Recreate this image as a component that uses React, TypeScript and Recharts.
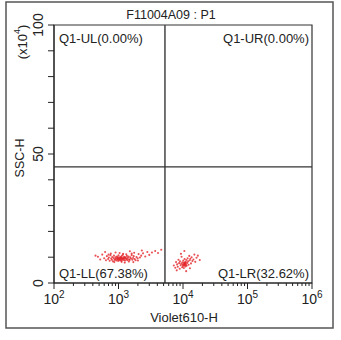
import { ScatterChart, Scatter, XAxis, YAxis, ReferenceLine, ReferenceArea } from "recharts"

const title = "F11004A09 : P1"
const xTitle = "Violet610-H"
const yTitle = "SSC-H"

const decades = [100, 1000, 10000, 100000, 1000000]
const minorSteps = [2, 3, 4, 5, 6, 7, 8, 9]
const xTicks = [
  ...decades,
  ...decades.slice(0, 4).flatMap((d) => minorSteps.map((m) => d * m)),
].sort((a, b) => a - b)
const yTicks = [0, 10, 20, 30, 40, 50, 60, 70, 80, 90, 100]
const yLabelTicks = [0, 50, 100]

// quadrant gate
const gateX = 5250
const gateY = 45

const quadLabels = {
  ul: "Q1-UL(0.00%)",
  ur: "Q1-UR(0.00%)",
  ll: "Q1-LL(67.38%)",
  lr: "Q1-LR(32.62%)",
}

// Violet610-H, SSC-H (x10^4)
const llEvents = [
  [440, 10.6], [480, 10.2], [520, 9.1], [560, 11.0], [600, 9.6], [640, 8.8], [660, 10.4], [690, 9.3], [710, 9.9],
  [730, 8.6], [750, 10.8], [770, 9.5], [790, 9.0], [800, 10.1], [820, 8.4], [840, 9.7], [850, 10.6],
  [870, 9.2], [880, 8.9], [900, 10.0], [910, 9.4], [930, 8.7], [940, 10.3], [960, 9.8], [970, 9.1],
  [990, 8.5], [1000, 10.7], [1010, 9.6], [1030, 9.2], [1040, 8.8], [1060, 10.1], [1070, 9.5], [1090, 9.9],
  [1100, 8.6], [1120, 10.4], [1130, 9.3], [1150, 9.0], [1160, 10.9], [1180, 9.7], [1200, 8.9], [1220, 10.2],
  [1240, 9.4], [1260, 8.7], [1280, 10.0], [1300, 9.6], [1330, 9.1], [1350, 10.5], [1380, 8.8], [1400, 9.8],
  [1430, 10.3], [1460, 9.2], [1490, 8.9], [1520, 10.0], [1560, 9.5], [1600, 10.8], [1640, 9.0], [1680, 9.7],
  [1720, 10.4], [1780, 9.3], [1840, 8.8], [1900, 10.1], [1980, 9.6], [2050, 11.2], [2150, 9.9], [2250, 10.6],
  [2400, 11.5], [2600, 10.3], [2800, 12.0], [3000, 10.9], [3300, 11.8], [3700, 12.4], [4100, 11.6], [4600, 12.9],
  [620, 12.0], [1500, 12.3], [900, 11.8], [1250, 7.9], [1700, 8.1], [950, 9.4], [1050, 9.7], [1150, 9.6],
  [1000, 9.2], [1100, 9.8], [1200, 9.5], [1080, 9.0], [980, 10.0], [1250, 9.9], [1350, 9.4],
  [760, 11.4], [1040, 11.6], [1320, 11.1], [1750, 11.7], [860, 8.1], [1120, 8.2], [1450, 8.3], [2000, 8.7],
  [700, 11.0], [1180, 11.3], [1600, 11.4], [2300, 12.6],
]

const lrEvents = [
  [7200, 6.8], [7600, 5.9], [7800, 8.1], [8100, 7.2], [8300, 6.3], [8500, 9.0], [8700, 7.7], [8900, 5.5],
  [9000, 8.4], [9200, 6.9], [9400, 7.5], [9500, 10.2], [9700, 6.1], [9800, 8.0], [9900, 7.1], [10000, 6.6],
  [10100, 8.7], [10200, 7.4], [10300, 5.8], [10400, 7.9], [10500, 6.8], [10600, 9.3], [10700, 7.2], [10800, 7.6],
  [10900, 6.4], [11000, 8.2], [11100, 7.0], [11300, 8.9], [11400, 6.7], [11600, 7.8], [11800, 9.6], [12000, 8.4],
  [12200, 7.1], [12500, 10.5], [12700, 8.8], [13000, 9.4], [13300, 7.6], [13600, 10.0], [14000, 8.5], [14500, 9.1],
  [15000, 11.0], [15500, 8.2], [16200, 9.8], [17000, 10.6], [9300, 11.3], [10500, 12.4], [8000, 4.9], [11200, 4.6],
  [12800, 5.7], [18200, 8.9], [10600, 7.4], [10400, 7.0], [10900, 7.9], [11000, 7.3],
]

const font = "'Liberation Sans', Arial, sans-serif"
const ink = "#222"
const dotColor = "#e3262b"

const toPoints = (rows: number[][]) => rows.map(([x, y]) => ({ x, y }))

function Dot(props: any) {
  return <circle cx={props.cx} cy={props.cy} r={1.05} fill={dotColor} fillOpacity={0.8} />
}

function XTick({ x, y, payload }: any) {
  const v = payload.value
  const exp = Math.round(Math.log10(v))
  const major = Math.abs(Math.log10(v) - exp) < 1e-6
  return (
    <g>
      <line x1={x} x2={x} y1={y} y2={y + (major ? 6 : 3)} stroke={ink} />
      {major && (
        <text x={x} y={y + 21} textAnchor="middle" fontSize={14} fill={ink} fontFamily={font}>
          <tspan>10</tspan>
          <tspan dy={-6} fontSize={10}>{exp}</tspan>
        </text>
      )}
    </g>
  )
}

function YTick({ x, y, payload }: any) {
  if (!yLabelTicks.includes(payload.value)) return null
  const cx = x - 10
  return (
    <text
      x={cx}
      y={y}
      transform={`rotate(-90 ${cx} ${y})`}
      textAnchor="middle"
      dominantBaseline="central"
      fontSize={14}
      fill={ink}
      fontFamily={font}
    >
      {payload.value}
    </text>
  )
}

function QuadLabel({ viewBox, text, corner }: any) {
  const { x, y, width, height } = viewBox
  const left = corner[1] === "l"
  const top = corner[0] === "u"
  return (
    <text
      x={left ? x + 5 : x + width - 3}
      y={top ? y + 18 : y + height - 5}
      textAnchor={left ? "start" : "end"}
      fontSize={13}
      fill={ink}
      fontFamily={font}
    >
      {text}
    </text>
  )
}

export default function App() {
  return (
    <div style={{ position: "absolute", left: 0, top: 0, width: 341, height: 340, background: "#fff" }}>
      <ScatterChart width={341} height={340} margin={{ top: 25, right: 29, bottom: 0, left: 0 }}>
        <XAxis
          type="number"
          dataKey="x"
          scale="log"
          domain={[100, 1000000]}
          ticks={xTicks}
          interval={0}
          allowDataOverflow
          height={57}
          tickSize={0}
          tickMargin={0}
          tickLine={false}
          tick={<XTick />}
          axisLine={{ stroke: ink }}
        />
        <YAxis
          type="number"
          dataKey="y"
          domain={[0, 100]}
          ticks={yTicks}
          interval={0}
          allowDataOverflow
          width={54}
          tickSize={6}
          tickMargin={0}
          tickLine={{ stroke: ink }}
          tick={<YTick />}
          axisLine={{ stroke: ink }}
        />
        <ReferenceArea x1={100} x2={1000000} y1={0} y2={100} fill="none" stroke="#333" strokeWidth={1.2} />
        <ReferenceArea x1={100} x2={gateX} y1={gateY} y2={100} fill="none" stroke="none" label={<QuadLabel text={quadLabels.ul} corner="ul" />} />
        <ReferenceArea x1={gateX} x2={1000000} y1={gateY} y2={100} fill="none" stroke="none" label={<QuadLabel text={quadLabels.ur} corner="ur" />} />
        <ReferenceArea x1={100} x2={gateX} y1={0} y2={gateY} fill="none" stroke="none" label={<QuadLabel text={quadLabels.ll} corner="ll" />} />
        <ReferenceArea x1={gateX} x2={1000000} y1={0} y2={gateY} fill="none" stroke="none" label={<QuadLabel text={quadLabels.lr} corner="lr" />} />
        <ReferenceLine x={gateX} stroke="#444" strokeWidth={1.5} />
        <ReferenceLine y={gateY} stroke="#333" strokeWidth={1.2} />
        <Scatter data={toPoints(llEvents)} shape={<Dot />} isAnimationActive={false} />
        <Scatter data={toPoints(lrEvents)} shape={<Dot />} isAnimationActive={false} />
      </ScatterChart>
      <svg width={341} height={340} style={{ position: "absolute", left: 0, top: 0, pointerEvents: "none" }}>
        <rect x={6} y={2} width={327} height={326} fill="none" stroke="#555" strokeWidth={1.5} />
        <text x={171} y={19} textAnchor="middle" fontSize={12.5} fill={ink} fontFamily={font}>
          {title}
        </text>
        <text
          x={22}
          y={42}
          transform="rotate(-90 22 42)"
          textAnchor="middle"
          dominantBaseline="central"
          fontSize={13}
          fill={ink}
          fontFamily={font}
        >
          <tspan>(x10</tspan>
          <tspan dy={-5} fontSize={9}>4</tspan>
          <tspan dy={5}>)</tspan>
        </text>
        <text
          x={20}
          y={158}
          transform="rotate(-90 20 158)"
          textAnchor="middle"
          dominantBaseline="central"
          fontSize={12.5}
          fill={ink}
          fontFamily={font}
        >
          {yTitle}
        </text>
        <text x={184} y={322} textAnchor="middle" fontSize={13} fill={ink} fontFamily={font}>
          {xTitle}
        </text>
      </svg>
    </div>
  )
}
